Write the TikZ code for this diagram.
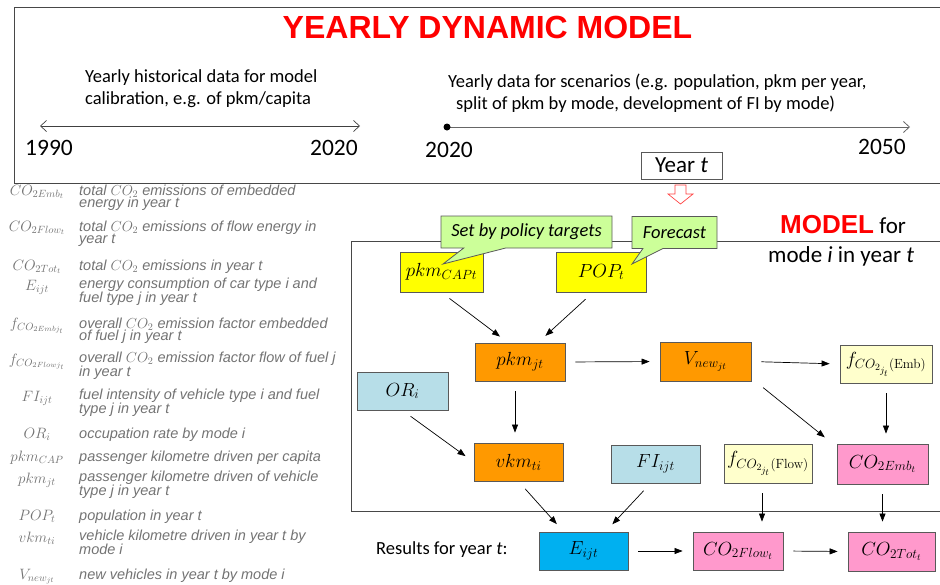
\RequirePackage{fix-cm}
\documentclass[tikz,border=0pt]{standalone}
\usepackage[no-math]{fontspec}
\setmainfont{Carlito}
\newfontfamily\arialfont{Liberation Sans}
\usetikzlibrary{positioning}
\usetikzlibrary{shapes.callouts}
\usetikzlibrary{arrows.meta}

\definecolor{boxgray}{HTML}{595959}
\definecolor{lgdgray}{HTML}{737373}
\definecolor{cgreen}{HTML}{CCFF99}
\definecolor{cyellow}{HTML}{FFFF00}
\definecolor{corange}{HTML}{FF9900}
\definecolor{clblue}{HTML}{B7DEE8}
\definecolor{cpale}{HTML}{FFFFCC}
\definecolor{cpink}{HTML}{FF99CC}
\definecolor{cblue}{HTML}{00B0F0}

\begin{document}
\begin{tikzpicture}[x=1pt, y=-1pt,
		mbox/.style={draw=boxgray, line width=0.8pt, minimum width=90pt, minimum height=38pt, inner sep=0pt,
			font=\fontsize{19}{19}\selectfont},
		arr/.style={-{Triangle[length=8pt, width=6pt]}, line width=0.7pt, shorten >=10pt, shorten <=10pt},
		bubble/.style={rectangle callout, draw=boxgray, fill=cgreen, line width=0.8pt, inner sep=0pt,
			minimum height=32pt, font=\fontsize{18.5}{18.5}\selectfont\itshape},
		txt/.style={inner sep=0pt, font=\fontsize{18.5}{22.5}\selectfont, align=left},
		year/.style={inner sep=0pt, font=\fontsize{23.5}{23.5}\selectfont},
		sym/.style={inner sep=0pt, anchor=base, text=lgdgray, font=\fontsize{15}{15}\selectfont},
		lgd/.style={inner sep=0pt, anchor=base west, align=left, text=lgdgray,
			font=\arialfont\itshape\fontsize{14.5}{12.8}\selectfont}
		]
		
		\useasboundingbox (0,0) rectangle (940,584);
		
		% frames
		\draw[boxgray!80!black, line width=0.8pt] (14,7) rectangle (950,183);
		\draw[boxgray!80!black, line width=0.8pt] (351,241) rectangle (950,511);
		
		\node[inner sep=0pt, text=red, font=\arialfont\bfseries\fontsize{32}{32}\selectfont] (title) at (487.5,27) {YEARLY DYNAMIC MODEL};
		
		% time lines
		\node[txt, anchor=base west] (hist) at (85,104.5) {Yearly historical data for model\\calibration, e.g. of pkm/capita};
		\node[txt, anchor=base west] (scen) at (448,109.5) {Yearly data for scenarios (e.g. population, pkm per year,\\\hspace*{8pt}split of pkm by mode, development of FI by mode)};
		
		\coordinate (h0) at (40,126);
		\coordinate (h1) at (360,126);
		\coordinate (f0) at (447,127);
		\coordinate (f1) at (910,127);
		\draw[{Straight Barb[length=6pt, width=11pt]}-{Straight Barb[length=6pt, width=11pt]}, line width=0.7pt, black!75] (h0) -- (h1);
		\draw[-{Straight Barb[length=6pt, width=11pt]}, line width=0.8pt, black!60] (f0) -- (f1);
		\fill (f0) circle (3.5pt);
		
		\node[year, anchor=base west] (y1990) at (25,155) {1990};
		\node[year, anchor=base east] (y2020a) at (358,155) {2020};
		\node[year, anchor=base west] (y2020b) at (425,157) {2020};
		\node[year, anchor=base east] (y2050) at (906,154) {2050};
		
		\node[draw=boxgray, line width=0.8pt, minimum width=81pt, minimum height=27pt, inner sep=0pt,
			font=\fontsize{23}{23}\selectfont] (yeart) at (681.5,165.5) {Year \textit{t}};
		\draw[red!75, line width=0.7pt, fill=white] (675,185) -- (686,185) -- (686,194) -- (693,194) -- (680.5,204) -- (668,194) -- (675,194) -- cycle;
		
		\node[inner sep=0pt, anchor=base west, font=\fontsize{23}{23}\selectfont] (modelhd) at (780,233)
			{{\arialfont\bfseries\fontsize{26}{26}\selectfont\color{red}MODEL} for};
		\node[inner sep=0pt, anchor=base west, font=\fontsize{23}{23}\selectfont] (modesub) at (768,262) {mode \textit{i} in year \textit{t}};
		
		% model boxes
		\node[mbox, fill=cyellow, minimum width=83pt, minimum height=40pt] (pkmcap) at (441.5,272) {$pkm_{CAPt}$};
		\node[mbox, fill=cyellow, minimum height=40pt] (pop) at (601,272) {$POP_t$};
		\node[mbox, fill=corange] (pkmjt) at (520,362) {$pkm_{jt}$};
		\node[mbox, fill=corange, minimum width=91pt, minimum height=39pt] (vnew) at (705.5,361.5) {$V_{new_{jt}}$};
		\node[mbox, fill=cpale, minimum width=92pt] (femb) at (886,364) {$f_{CO_{2_{j_t}}\mathrm{(Emb)}}$};
		\node[mbox, fill=clblue, minimum width=91pt] (ori) at (402.5,391) {$OR_i$};
		\node[mbox, fill=corange, minimum width=89pt] (vkm) at (518.5,462) {$vkm_{ti}$};
		\node[mbox, fill=clblue, minimum width=89pt] (fi) at (655.5,464) {$FI_{ijt}$};
		\node[mbox, fill=cpale, minimum width=88pt, minimum height=39pt] (fflow) at (768,463.5) {$f_{CO_{2_{j_t}}\mathrm{(Flow)}}$};
		\node[mbox, fill=cpink, minimum width=91pt, minimum height=40pt] (coemb) at (882.5,464) {$CO_{2Emb_t}$};
		\node[mbox, fill=cblue, minimum width=89pt] (eijt) at (583.5,551) {$E_{ijt}$};
		\node[mbox, fill=cpink] (coflow) at (738,551) {$CO_{2Flow_t}$};
		\node[mbox, fill=cpink, minimum width=87pt, minimum height=39pt] (cotot) at (891.5,551.5) {$CO_{2Tot_t}$};
		
		\node[txt, anchor=base west] (results) at (376,554) {Results for year \textit{t}:};
		
		% callouts
		\node[bubble, minimum width=171pt, callout absolute pointer={(443,264)}, callout pointer width=42pt] (policy) at (526.5,232) {Set by policy targets};
		\node[bubble, minimum width=85pt, callout absolute pointer={(632,264)}, callout pointer width=20pt] (forecast) at (674.5,232.5) {Forecast};
		
		% connections
		\draw[arr] (pkmcap.south) -- ([xshift=-12pt]pkmjt.north);
		\draw[arr] ([xshift=-8pt]pop.south) -- ([xshift=18pt]pkmjt.north);
		\draw[arr] (pkmjt.east) -- (vnew.west);
		\draw[arr] (vnew.east) -- (femb.west);
		\draw[arr] ([xshift=4pt]vnew.south east) -- ([xshift=-4pt]coemb.north west);
		\draw[arr] (femb.south) -- (femb.south |- coemb.north);
		\draw[arr] ([xshift=-5pt]pkmjt.south) -- ([xshift=-5pt]pkmjt.south |- vkm.north);
		\draw[arr] (ori.south) -- (vkm.west);
		\draw[arr] (vkm.south) -- ([xshift=-20pt]eijt.north);
		\draw[arr] ([xshift=-5pt]fi.south) -- ([xshift=22pt]eijt.north);
		\draw[arr] ([xshift=-6pt]fflow.south) -- ([xshift=-6pt]fflow.south |- coflow.north);
		\draw[arr] (coemb.south) -- (coemb.south |- cotot.north);
		\draw[arr] (eijt.east) -- (coflow.west);
		\draw[arr] (coflow.east) -- (cotot.west);
		
		% legend
		\node[sym] (s1) at (37,195) {$CO_{2Emb_t}$};
		\node[lgd] (l1) at (79,207.8) {total $CO_2$ emissions of embedded\\energy in year t};
		\node[sym] (s2) at (37,231) {$CO_{2Flow_t}$};
		\node[lgd] (l2) at (79,243.8) {total $CO_2$ emissions of flow energy in\\year t};
		\node[sym] (s3) at (37,270) {$CO_{2Tot_t}$};
		\node[lgd] (l3) at (79,270) {total $CO_2$ emissions in year t};
		\node[sym] (s4) at (37,290) {$E_{ijt}$};
		\node[lgd] (l4) at (79,302.8) {energy consumption of car type i and\\fuel type j in year t};
		\node[sym] (s5) at (37,328) {$f_{CO_{2Embj_t}}$};
		\node[lgd] (l5) at (79,340.8) {overall $CO_2$ emission factor embedded\\of fuel j in year t};
		\node[sym] (s6) at (37,364) {$f_{CO_{2Flowj_t}}$};
		\node[lgd] (l6) at (79,376.8) {overall $CO_2$ emission factor flow of fuel j\\in year t};
		\node[sym] (s7) at (37,401) {$FI_{ijt}$};
		\node[lgd] (l7) at (79,413.8) {fuel intensity of vehicle type i and fuel\\type j in year t};
		\node[sym] (s8) at (37,438) {$OR_i$};
		\node[lgd] (l8) at (79,438) {occupation rate by mode i};
		\node[sym] (s9) at (37,461) {$pkm_{CAP}$};
		\node[lgd] (l9) at (79,461) {passenger kilometre driven per capita};
		\node[sym] (s10) at (37,483) {$pkm_{jt}$};
		\node[lgd] (l10) at (79,495.8) {passenger kilometre driven of vehicle\\type j in year t};
		\node[sym] (s11) at (37,520) {$POP_t$};
		\node[lgd] (l11) at (79,520) {population in year t};
		\node[sym] (s12) at (37,542) {$vkm_{ti}$};
		\node[lgd] (l12) at (79,554.8) {vehicle kilometre driven in year t by\\mode i};
		\node[sym] (s13) at (37,579) {$V_{new_{jt}}$};
		\node[lgd] (l13) at (79,579) {new vehicles in year t by mode i};
		
	\end{tikzpicture}
\end{document}
